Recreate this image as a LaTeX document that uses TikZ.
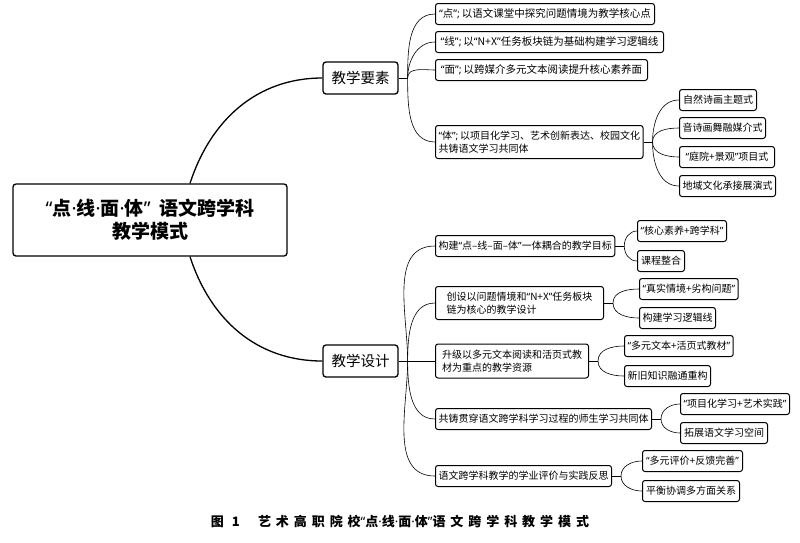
\documentclass[tikz,border=0pt]{standalone}
\usepackage{fontspec}
\setmainfont{Noto Sans CJK SC}
\newfontfamily\latinfont{Noto Sans}
\newfontfamily\capfont[LetterSpace=38]{Noto Sans CJK SC}
\newcommand{\qopen}{{\latinfont “}}
\newcommand{\qclose}{{\latinfont ”}}
\newcommand{\mdot}{{\latinfont ·}}
\newcommand{\semi}{{\latinfont ;}\,}

\tikzset{
  rootbox/.style={draw, line width=1.3pt, rounded corners=3pt, minimum width=274pt,
    minimum height=72pt, align=center, font=\fontsize{19}{23}\selectfont\bfseries},
  levelbox/.style={draw, line width=1.3pt, rounded corners=3pt, minimum width=75pt,
    minimum height=32pt, font=\fontsize{14.5}{16}\selectfont},
  itembox/.style={draw, line width=1pt, rounded corners=2.5pt, anchor=west,
    minimum height=21pt, inner sep=3pt, align=left, font=\fontsize{10}{12.5}\selectfont},
  trunk/.style={line width=1.3pt},
  twig/.style={line width=0.6pt},
}

\begin{document}
\begin{tikzpicture}[x=1pt, y=-1pt]
  \useasboundingbox (0,0) rectangle (800,542);

  \node[rootbox] (root) at (150,220) {\qopen 点\mdot 线\mdot 面\mdot 体\qclose\ \ 语文跨学科\\教学模式};
  \node[levelbox] (elem) at (360.5,78) {教学要素};
  \node[levelbox] (design) at (360.5,361) {教学设计};

  % 教学要素
  \node[itembox, minimum width=219pt, font=\fontsize{10.5}{12.5}\selectfont] (dian) at (435,14) {\qopen 点\qclose\semi 以语文课堂中探究问题情境为教学核心点};
  \node[itembox, minimum width=228pt, font=\fontsize{10.5}{12.5}\selectfont] (xian) at (435,42) {\qopen 线\qclose\semi 以\qopen N+X\qclose 任务板块链为基础构建学习逻辑线};
  \node[itembox, minimum width=212pt, font=\fontsize{10.5}{12.5}\selectfont] (mian) at (435,70) {\qopen 面\qclose\semi 以跨媒介多元文本阅读提升核心素养面};
  \node[itembox, minimum width=207pt, minimum height=33pt] (ti) at (435,142) {\qopen 体\qclose\semi 以项目化学习、艺术创新表达、校园文化\\共铸语文学习共同体};
  \node[itembox, minimum width=77pt] (tiA) at (679,100) {自然诗画主题式};
  \node[itembox, minimum width=86pt] (tiB) at (679,128) {音诗画舞融媒介式};
  \node[itembox, minimum width=95pt] (tiC) at (679,157) {\qopen 庭院+景观\qclose 项目式};
  \node[itembox, minimum width=94pt] (tiD) at (679,186) {地域文化承接展演式};

  % 教学设计
  \node[itembox, minimum width=167pt] (goal) at (435,246) {构建\qopen 点–线–面–体\qclose 一体耦合的教学目标};
  \node[itembox, minimum width=89pt] (goalA) at (637,231) {\qopen 核心素养+跨学科\qclose};
  \node[itembox, minimum width=47pt] (goalB) at (637,261) {课程整合};
  \node[itembox, minimum width=168pt, minimum height=33pt] (plan) at (435,303) {创设以问题情境和\qopen N+X\qclose 任务板块\\链为核心的教学设计};
  \node[itembox, minimum width=98pt] (planA) at (639,289) {\qopen 真实情境+劣构问题\qclose};
  \node[itembox, minimum width=76pt] (planB) at (639,318) {构建学习逻辑线};
  \node[itembox, minimum width=153pt, minimum height=34pt] (res) at (435,361) {升级以多元文本阅读和活页式教\\材为重点的教学资源};
  \node[itembox, minimum width=107pt] (resA) at (624,346) {\qopen 多元文本+活页式教材\qclose};
  \node[itembox, minimum width=86pt] (resB) at (624,376) {新旧知识融通重构};
  \node[itembox, minimum width=210pt] (comm) at (435,419) {共铸贯穿语文跨学科学习过程的师生学习共同体};
  \node[itembox, minimum width=109pt] (commA) at (680,404) {\qopen 项目化学习+艺术实践\qclose};
  \node[itembox, minimum width=87pt] (commB) at (680,433) {拓展语文学习空间};
  \node[itembox, minimum width=172pt] (eval) at (435,476) {语文跨学科教学的学业评价与实践反思};
  \node[itembox, minimum width=100pt] (evalA) at (642,461) {\qopen 多元评价+反馈完善\qclose};
  \node[itembox, minimum width=97pt] (evalB) at (642,491) {平衡协调多方面关系};

  \node[font=\fontsize{13}{14}\selectfont\capfont\bfseries] (cap) at (400,521) {图 1\hspace{1.4em}艺术高职院校\qopen 点\mdot 线\mdot 面\mdot 体\qclose 语文跨学科教学模式};

  % trunk curves
  \draw[trunk] ([xshift=40pt]root.north) to[out=72, in=180] (elem.west);
  \draw[trunk] ([xshift=40pt]root.south) to[out=-72, in=180] (design.west);

  % forks
  \coordinate (elemJ) at ([xshift=9pt]elem.east);
  \coordinate (tiJ) at ([xshift=9pt]ti.east);
  \coordinate (designJ) at ([xshift=9pt]design.east);
  \coordinate (goalJ) at ([xshift=9pt]goal.east);
  \coordinate (planJ) at ([xshift=9pt]plan.east);
  \coordinate (resJ) at ([xshift=9pt]res.east);
  \coordinate (commJ) at ([xshift=9pt]comm.east);
  \coordinate (evalJ) at ([xshift=9pt]eval.east);

  \draw[twig] (elem.east) -- (elemJ);
  \draw[twig] (elemJ) to[out=90, in=180] (dian.west);
  \draw[twig] (elemJ) to[out=90, in=180] (xian.west);
  \draw[twig] (elemJ) to[out=90, in=180] (mian.west);
  \draw[twig] (elemJ) to[out=-90, in=180] (ti.west);

  \draw[twig] (ti.east) -- (tiJ);
  \draw[twig] (tiJ) to[out=90, in=180] (tiA.west);
  \draw[twig] (tiJ) to[out=90, in=180] (tiB.west);
  \draw[twig] (tiJ) to[out=-90, in=180] (tiC.west);
  \draw[twig] (tiJ) to[out=-90, in=180] (tiD.west);

  \draw[twig] (design.east) -- (designJ);
  \draw[twig] (designJ) to[out=90, in=180] (goal.west);
  \draw[twig] (designJ) to[out=90, in=180] (plan.west);
  \draw[twig] (designJ) -- (res.west);
  \draw[twig] (designJ) to[out=-90, in=180] (comm.west);
  \draw[twig] (designJ) to[out=-90, in=180] (eval.west);

  \draw[twig] (goal.east) -- (goalJ);
  \draw[twig] (goalJ) to[out=90, in=180] (goalA.west);
  \draw[twig] (goalJ) to[out=-90, in=180] (goalB.west);
  \draw[twig] (plan.east) -- (planJ);
  \draw[twig] (planJ) to[out=90, in=180] (planA.west);
  \draw[twig] (planJ) to[out=-90, in=180] (planB.west);
  \draw[twig] (res.east) -- (resJ);
  \draw[twig] (resJ) to[out=90, in=180] (resA.west);
  \draw[twig] (resJ) to[out=-90, in=180] (resB.west);
  \draw[twig] (comm.east) -- (commJ);
  \draw[twig] (commJ) to[out=90, in=180] (commA.west);
  \draw[twig] (commJ) to[out=-90, in=180] (commB.west);
  \draw[twig] (eval.east) -- (evalJ);
  \draw[twig] (evalJ) to[out=90, in=180] (evalA.west);
  \draw[twig] (evalJ) to[out=-90, in=180] (evalB.west);
\end{tikzpicture}
\end{document}
